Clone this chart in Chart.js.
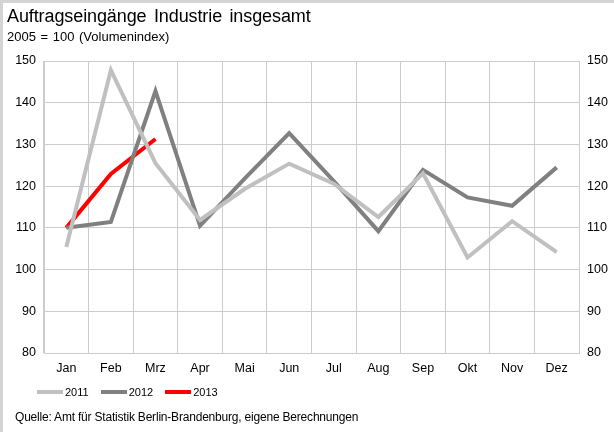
<!DOCTYPE html>
<html>
<head>
<meta charset="utf-8">
<script src="https://cdn.jsdelivr.net/npm/chart.js@4/dist/chart.umd.min.js"></script>
<style>
  body { margin:0; background:#fff; font-family:"Liberation Sans", Arial, sans-serif; }
  #wrap { position:relative; width:614px; height:432px; overflow:hidden; }
  #chartBox { position:absolute; left:0; top:0; width:614px; height:432px; }
  .edge { position:absolute; background:#d4d4d4; }
  #title { position:absolute; left:7px; top:6px; font-size:18px; word-spacing:2.5px; letter-spacing:-0.1px; color:#000; white-space:nowrap; }
  #subtitle { position:absolute; left:7px; top:29px; font-size:13px; word-spacing:1px; color:#000; white-space:nowrap; }
  #legend { position:absolute; left:37px; top:386px; display:flex; align-items:center; font-size:11px; }
  .leg-item { display:flex; align-items:center; margin-right:12px; }
  .leg-line { width:26px; height:4px; margin-right:2px; }
  #source { position:absolute; left:15px; top:410px; font-size:12px; color:#000; white-space:nowrap; letter-spacing:-0.2px; }
</style>
</head>
<body>
<div id="wrap">
  <div id="chartBox"><canvas id="chart" width="614" height="432"></canvas></div>
  <div class="edge" style="left:0;top:0;width:614px;height:3px"></div>
  <div class="edge" style="left:0;top:0;width:3px;height:432px"></div>
  <div id="title">Auftragseingänge Industrie insgesamt</div>
  <div id="subtitle">2005 = 100 (Volumenindex)</div>
  <div id="legend"></div>
  <div id="source">Quelle: Amt für Statistik Berlin-Brandenburg, eigene Berechnungen</div>
</div>
<script>
// Monate und Werte (2005 = 100)
const months = ['Jan','Feb','Mrz','Apr','Mai','Jun','Jul','Aug','Sep','Okt','Nov','Dez'];
const values2011 = [105.4, 147.8, 125.5, 111.9, 119.3, 125.4, 120.6, 112.6, 123.1, 102.9, 111.6, 104.2];
const values2012 = [110.0, 111.4, 142.8, 110.5, 121.8, 132.7, 121.2, 109.2, 123.9, 117.3, 115.3, 124.5];
const values2013 = [110.0, 122.9, 131.3];
const yTicks = [80, 90, 100, 110, 120, 130, 140, 150];

const SERIES = [
  { label:'2011', data:values2011, color:'#c0c0c0' },
  { label:'2012', data:values2012, color:'#808080' },
  { label:'2013', data:values2013, color:'#ff0000' }
];

const GRID = '#cccccc';
const FONT = { family:'"Liberation Sans", Arial, sans-serif', size:12.5 };

document.getElementById('legend').innerHTML = SERIES.map(s => `
  <div class="leg-item"><span class="leg-line" style="background:${s.color}"></span><span>${s.label}</span></div>`).join('');

const yAxis = (pos, width) => ({
  position: pos,
  min: yTicks[0],
  max: yTicks[yTicks.length - 1],
  afterBuildTicks: s => { s.ticks = yTicks.map(v => ({ value:v })); },
  afterFit: s => { s.width = width; },
  grid: { color:GRID, lineWidth:1, drawTicks:false, drawOnChartArea: pos === 'left' },
  border: { color:GRID },
  ticks: { color:'#000', font:FONT, padding:8 }
});

new Chart(document.getElementById('chart').getContext('2d'), {
  type: 'line',
  data: {
    labels: months,
    datasets: SERIES.map(s => ({
      label: s.label, data: s.data, borderColor: s.color, backgroundColor: s.color,
      borderWidth: 4, pointRadius: 0, tension: 0, yAxisID: 'y'
    }))
  },
  options: {
    responsive: false,
    animation: false,
    layout: { padding: { top:61, bottom:55, left:0, right:0 } },
    plugins: { legend: { display:false }, tooltip: { enabled:false } },
    scales: {
      x: {
        offset: true,
        grid: { offset:true, color:GRID, lineWidth:1, drawTicks:false },
        border: { color:GRID },
        ticks: { color:'#000', font:FONT, padding:8, maxRotation:0 },
        afterFit: s => { s.height = 24; }
      },
      y: yAxis('left', 44),
      y2: yAxis('right', 35)
    }
  }
});
</script>
</body>
</html>
